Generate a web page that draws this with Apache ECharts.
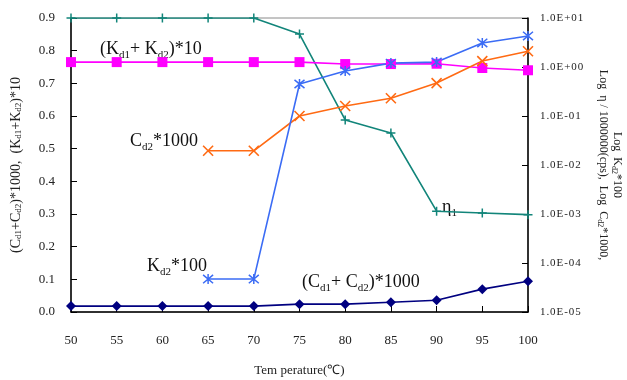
<!DOCTYPE html>
<html>
<head>
<meta charset="utf-8">
<script src="https://cdn.jsdelivr.net/npm/echarts@6/dist/echarts.min.js"></script>
<style>
  html, body { margin: 0; padding: 0; background: #fff; }
  #main { width: 627px; height: 380px; }
</style>
</head>
<body>
<div id="main"></div>
<script>
// 温度
var temps = [50, 55, 60, 65, 70, 75, 80, 85, 90, 95, 100];
var tempsPart = [65, 70, 75, 80, 85, 90, 95, 100];

// 左轴
var kSum10 = [0.765, 0.765, 0.765, 0.765, 0.765, 0.765, 0.759, 0.759, 0.760, 0.747, 0.740];
var cSum1000 = [0.018, 0.018, 0.018, 0.018, 0.018, 0.024, 0.024, 0.030, 0.036, 0.070, 0.094];

// 右轴 (log)
var eta1 = [10, 10, 10, 10, 10, 4.7, 0.083, 0.045, 0.00114, 0.00105, 0.00097];
var kd2x100 = [0.000047, 0.000047, 0.45, 0.83, 1.2, 1.26, 3.1, 4.3];
var cd2x1000 = [0.0195, 0.0195, 0.1, 0.16, 0.23, 0.47, 1.32, 2.1];

function pairs(xs, ys) {
    var out = [];
    for (var i = 0; i < xs.length; i++) {
        out.push([xs[i], ys[i]]);
    }
    return out;
}

function sci(v) {
    var e = Math.round(Math.log(v) / Math.LN10);
    var s = e < 0 ? '-' : '+';
    var a = Math.abs(e);
    return '1.0E' + s + (a < 10 ? '0' + a : a);
}

var serif = 'Liberation Serif';
var subRich = {
    s: { fontSize: 11, fontFamily: serif, verticalAlign: 'bottom', lineHeight: 20, padding: [0, 0, -2, 0] },
    n: { fontSize: 18, fontFamily: serif, lineHeight: 20 }
};

var crossX = 'path://M0,0L10,10M10,0L0,10';
var star = 'path://M0,0L10,10M10,0L0,10M5,-1L5,11';
var plus = 'path://M5,0L5,10M0,5L10,5';

var myChart = echarts.init(document.getElementById('main'));

option = {
    animation: false,
    textStyle: { fontFamily: serif },
    grid: {
        left: 71, right: 99, top: 18, bottom: 68,
        outerBoundsMode: 'none',
        containLabel: false,
        show: true, borderColor: '#8a8a8a', borderWidth: 1
    },
    xAxis: {
        type: 'value',
        min: 50, max: 100, interval: 5,
        name: 'Tem perature(\u2103)',
        nameLocation: 'center',
        nameGap: 52,
        nameTextStyle: { fontSize: 13, color: '#222', fontFamily: serif },
        axisLine: { lineStyle: { color: '#000', width: 1.5 } },
        axisTick: { inside: true, length: 6, lineStyle: { color: '#000' } },
        axisLabel: { fontSize: 13, color: '#222', margin: 22, fontFamily: serif },
        splitLine: { show: false }
    },
    yAxis: [
        {
            type: 'value',
            min: 0, max: 0.9, interval: 0.1,
            name: '(C{s|d1}+C{s|d2})*1000,  (K{s|d1}+K{s|d2})*10',
            nameLocation: 'center',
            nameGap: 48,
            nameRotate: 90,
            nameTextStyle: {
                fontSize: 14, color: '#222', fontFamily: serif,
                rich: { s: { fontSize: 9, fontFamily: serif, color: '#222', verticalAlign: 'bottom' } }
            },
            axisLine: { show: true, lineStyle: { color: '#000', width: 1.5 } },
            axisTick: { show: true, inside: true, length: 6, lineStyle: { color: '#000' } },
            axisLabel: {
                fontSize: 13, color: '#222', margin: 16, fontFamily: serif,
                formatter: function (v) { return v.toFixed(1); }
            },
            splitLine: { show: false }
        },
        {
            type: 'log',
            logBase: 10,
            min: 0.00001, max: 10,
            interval: 1,
            name: 'Log  K{s|d2}*100\nLog  \u03b7 / 1000000(cps),  Log  C{s|d2}*1000,',
            nameLocation: 'center',
            nameGap: 68,
            nameRotate: -90,
            nameTextStyle: {
                fontSize: 12, color: '#222', fontFamily: serif, lineHeight: 14,
                rich: { s: { fontSize: 8, fontFamily: serif, color: '#222', verticalAlign: 'bottom' } }
            },
            axisLine: { show: true, lineStyle: { color: '#000', width: 1.5 } },
            axisTick: { show: true, inside: true, length: 6, lineStyle: { color: '#000' } },
            axisLabel: {
                fontSize: 11, color: '#222', margin: 12, fontFamily: serif,
                formatter: function (v) { return sci(v).split('').join('\u200a'); }
            },
            splitLine: { show: false }
        }
    ],
    graphic: [
        { type: 'text', left: 100, top: 40, style: { text: '{n|(K}{s|d1}{n|+ K}{s|d2}{n|)*10}', rich: subRich, fill: '#111' } },
        { type: 'text', left: 130, top: 132, style: { text: '{n|C}{s|d2}{n|*1000}', rich: subRich, fill: '#111' } },
        { type: 'text', left: 147, top: 257, style: { text: '{n|K}{s|d2}{n|*100}', rich: subRich, fill: '#111' } },
        { type: 'text', left: 302, top: 273, style: { text: '{n|(C}{s|d1}{n|+ C}{s|d2}{n|)*1000}', rich: subRich, fill: '#111' } },
        { type: 'text', left: 442, top: 198, style: { text: '{n|\u03b7}{s|1}', rich: subRich, fill: '#111' } }
    ],
    series: [
        {
            name: 'eta1', type: 'line', yAxisIndex: 1,
            data: pairs(temps, eta1),
            symbol: plus, symbolSize: 9,
            lineStyle: { color: '#12857a', width: 1.6 },
            itemStyle: { color: '#12857a', borderColor: '#12857a', borderWidth: 1.5 }
        },
        {
            name: 'kSum', type: 'line', yAxisIndex: 0,
            data: pairs(temps, kSum10),
            symbol: 'rect', symbolSize: 10,
            lineStyle: { color: '#ff00ff', width: 1.6 },
            itemStyle: { color: '#ff00ff' }
        },
        {
            name: 'cd2', type: 'line', yAxisIndex: 1,
            data: pairs(tempsPart, cd2x1000),
            symbol: crossX, symbolSize: 10,
            lineStyle: { color: '#ff6a13', width: 1.6 },
            itemStyle: { color: '#ff6a13', borderColor: '#ff6a13', borderWidth: 1.6 }
        },
        {
            name: 'kd2', type: 'line', yAxisIndex: 1,
            data: pairs(tempsPart, kd2x100),
            symbol: star, symbolSize: 10,
            lineStyle: { color: '#3b6cf5', width: 1.6 },
            itemStyle: { color: '#3b6cf5', borderColor: '#3b6cf5', borderWidth: 1.5 }
        },
        {
            name: 'cSum', type: 'line', yAxisIndex: 0,
            data: pairs(temps, cSum1000),
            symbol: 'diamond', symbolSize: 10,
            lineStyle: { color: '#000080', width: 1.6 },
            itemStyle: { color: '#000080' }
        }
    ]
};

myChart.setOption(option, true);
</script>
</body>
</html>
